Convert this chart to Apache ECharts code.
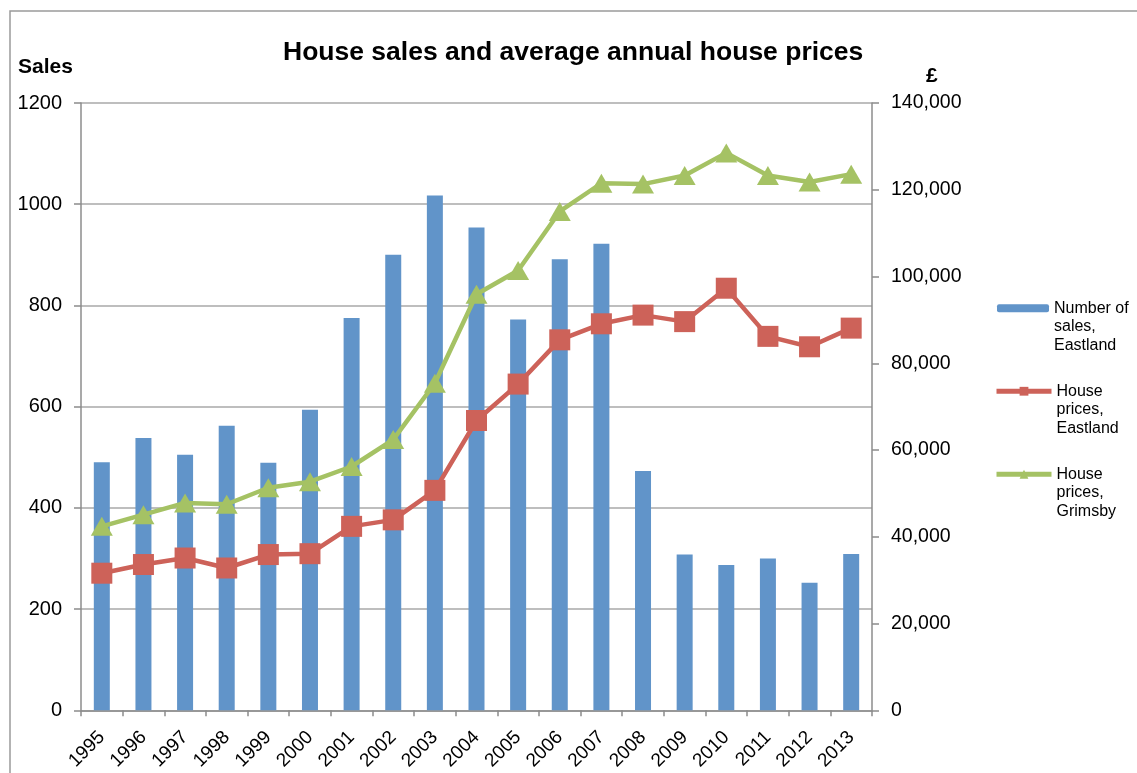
<!DOCTYPE html>
<html>
<head>
<meta charset="utf-8">
<script src="https://cdn.jsdelivr.net/npm/echarts@6/dist/echarts.min.js"></script>
<style>
  html, body { margin: 0; padding: 0; background: #fff; }
  #chart { width: 1137px; height: 773px; }
</style>
</head>
<body>
<div id="chart"></div>
<script>
// 年份
const years = ['1995', '1996', '1997', '1998', '1999', '2000', '2001', '2002', '2003', '2004',
  '2005', '2006', '2007', '2008', '2009', '2010', '2011', '2012', '2013'];
// Eastland sales count (left axis)
const salesEastland = [490, 538, 505, 562, 489, 594, 775, 900, 1017, 954,
  772, 891, 922, 473, 308, 287, 300, 252, 309];
// average prices (right axis, £)
const pricesEastland = [31600, 33600, 35100, 32800, 35900, 36100, 42400, 43900, 50700, 66800,
  75200, 85400, 89100, 91100, 89600, 97300, 86200, 83800, 88100];
const pricesGrimsby = [42400, 45100, 47800, 47500, 51300, 52700, 56200, 62400, 75400, 95900,
  101400, 115000, 121500, 121300, 123300, 128500, 123300, 121800, 123600];
const salesTicks = [0, 200, 400, 600, 800, 1000, 1200];
const priceTicks = [0, 20000, 40000, 60000, 80000, 100000, 120000, 140000];

const seriesNames = ['Number of sales, Eastland', 'House prices, Eastland', 'House prices, Grimsby'];
// leading blank lines keep the icon level with the first text line
const legendLabels = {
  'Number of sales, Eastland': '\n\nNumber of\nsales,\nEastland',
  'House prices, Eastland': '\n\nHouse\nprices,\nEastland',
  'House prices, Grimsby': '\n\nHouse\nprices,\nGrimsby'
};

const BLUE = '#6194c9';
const RED = '#cd6259';
const GREEN = '#a5c264';
const FONT = '"Liberation Sans", Arial, sans-serif';

const chart = echarts.init(document.getElementById('chart'), null, { renderer: 'canvas' });

/**
 * 图例（每项单独一个）
 */
function makeLegend(name, top, isBar) {
  return {
    data: [name],
    left: isBar ? 992 : 989,
    top: top,
    orient: 'vertical',
    selectedMode: false,
    itemWidth: isBar ? 52 : 55,
    itemHeight: isBar ? 8 : 11,
    itemGap: 0,
    lineStyle: { width: 5 },
    textStyle: {
      fontFamily: FONT,
      fontSize: 16,
      color: '#000',
      lineHeight: 18.5
    },
    formatter: n => legendLabels[n]
  };
}

const option = {
  animation: false,
  textStyle: { fontFamily: FONT },
  title: [
    {
      text: 'House sales and average annual house prices',
      left: 283,
      top: 39,
      padding: 0,
      textStyle: { fontFamily: FONT, fontSize: 26.5, fontWeight: 'bold', color: '#000' }
    },
    {
      text: 'Sales',
      left: 18,
      top: 57,
      padding: 0,
      textStyle: { fontFamily: FONT, fontSize: 21, fontWeight: 'bold', color: '#000' }
    },
    {
      text: '£',
      left: 926,
      top: 66,
      padding: 0,
      textStyle: { fontFamily: FONT, fontSize: 21, fontWeight: 'bold', color: '#000' }
    }
  ],
  legend: [
    makeLegend(seriesNames[0], 257, true),
    makeLegend(seriesNames[1], 340, false),
    makeLegend(seriesNames[2], 423, false)
  ],
  grid: {
    left: 81,
    right: 265,
    top: 103,
    bottom: 62,
    containLabel: false
  },
  xAxis: {
    type: 'category',
    data: years,
    boundaryGap: true,
    axisLine: { lineStyle: { color: '#8c8c8c', width: 1.5 } },
    axisTick: { show: true, alignWithLabel: false, length: 6, lineStyle: { color: '#8c8c8c', width: 1.5 } },
    axisLabel: { rotate: 45, fontSize: 19, color: '#000', margin: 24, interval: 0 }
  },
  yAxis: [
    {
      type: 'value',
      min: salesTicks[0],
      max: salesTicks[salesTicks.length - 1],
      interval: salesTicks[1] - salesTicks[0],
      axisLine: { show: true, lineStyle: { color: '#8c8c8c', width: 1.5 } },
      axisTick: { show: true, length: 7, lineStyle: { color: '#8c8c8c', width: 1.5 } },
      axisLabel: { fontSize: 20, color: '#000', margin: 19, formatter: v => String(v) },
      splitLine: { show: true, lineStyle: { color: '#a8a8a8', width: 1.5 } }
    },
    {
      type: 'value',
      position: 'right',
      min: priceTicks[0],
      max: priceTicks[priceTicks.length - 1],
      interval: priceTicks[1] - priceTicks[0],
      axisLine: { show: true, lineStyle: { color: '#8c8c8c', width: 1.5 } },
      axisTick: { show: true, length: 7, lineStyle: { color: '#8c8c8c', width: 1.5 } },
      axisLabel: {
        fontSize: 19.5,
        color: '#000',
        margin: 19,
        formatter: v => v.toLocaleString('en-US')
      },
      splitLine: { show: false }
    }
  ],
  graphic: [
    {
      type: 'rect',
      shape: { x: 10, y: 11, width: 1300, height: 900 },
      style: { fill: 'none', stroke: '#9a9a9a', lineWidth: 1.5 },
      silent: true,
      z: -10
    }
  ],
  series: [
    {
      name: seriesNames[0],
      type: 'bar',
      yAxisIndex: 0,
      data: salesEastland,
      barWidth: 16,
      itemStyle: { color: BLUE }
    },
    {
      name: seriesNames[1],
      type: 'line',
      yAxisIndex: 1,
      data: pricesEastland,
      symbol: 'rect',
      symbolSize: 21,
      lineStyle: { color: RED, width: 4.5 },
      itemStyle: { color: RED }
    },
    {
      name: seriesNames[2],
      type: 'line',
      yAxisIndex: 1,
      data: pricesGrimsby,
      symbol: 'triangle',
      symbolSize: [22, 19],
      lineStyle: { color: GREEN, width: 4.5 },
      itemStyle: { color: GREEN }
    }
  ]
};

chart.setOption(option);
</script>
</body>
</html>
